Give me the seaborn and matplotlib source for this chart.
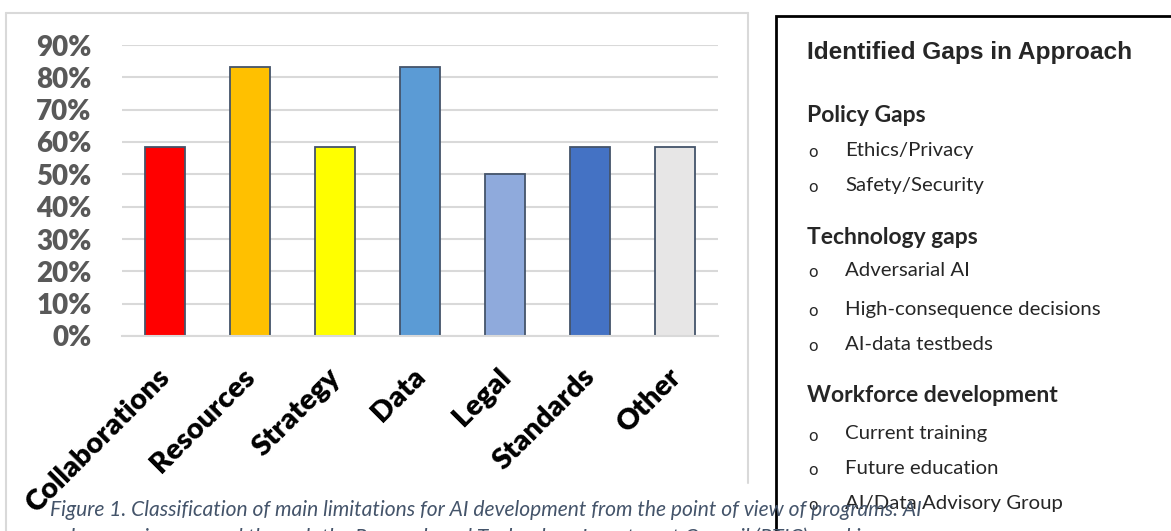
#!/usr/bin/env python3
"""Main limitations for AI development, with the identified-gaps panel."""

from __future__ import annotations

import matplotlib

matplotlib.use("Agg")

import matplotlib.pyplot as plt
import matplotlib.transforms as mtransforms
import pandas as pd
import seaborn as sns
from matplotlib.patches import Rectangle
from matplotlib.lines import Line2D
from matplotlib.ticker import PercentFormatter


CATEGORIES = ["Collaborations", "Resources", "Strategy", "Data", "Legal", "Standards", "Other"]
SHARES = [0.583, 0.833, 0.583, 0.833, 0.50, 0.583, 0.583]
BAR_COLORS = ["#FF0000", "#FFC000", "#FFFF00", "#5B9BD5", "#8FAADC", "#4472C4", "#E7E6E6"]
Y_TICKS = [0.0, 0.1, 0.2, 0.3, 0.4, 0.5, 0.6, 0.7, 0.8, 0.9]

PANEL_TITLE = "Identified Gaps in Approach"
GAP_SECTIONS = [
    ("Policy Gaps", ["Ethics/Privacy", "Safety/Security"]),
    ("Technology gaps", ["Adversarial AI", "High-consequence decisions", "AI-data testbeds"]),
    ("Workforce development", ["Current training", "Future education", "AI/Data Advisory Group"]),
]
CAPTION = [
    "Figure 1. Classification of main limitations for AI development from the point of view of programs. AI",
    "coherence is managed through the Research and Technology Investment Council (RTIC) working group",
]

W, H = 1171, 531

sns.set_theme(style="white")
plt.rcParams["font.family"] = ["Lato", "DejaVu Sans"]


def fx(px: float) -> float:
    return px / W


def fy(py: float) -> float:
    return 1 - py / H


def main() -> None:
    fig = plt.figure(figsize=(W / 100, H / 100), dpi=100)
    fig.patch.set_facecolor("white")

    # light grey frame of the chart area
    grey = "#D9D9D9"
    fig.add_artist(Line2D([fx(6), fx(748)], [fy(13), fy(13)], color=grey, lw=1.5))
    fig.add_artist(Line2D([fx(6), fx(6)], [fy(13), fy(540)], color=grey, lw=1.5))
    fig.add_artist(Line2D([fx(748), fx(748)], [fy(13), fy(483)], color=grey, lw=1.5))

    ax = fig.add_axes([fx(122), fy(336), fx(718) - fx(122), fy(45) - fy(336)])
    df = pd.DataFrame({"category": CATEGORIES, "share": SHARES})
    sns.barplot(
        data=df,
        x="category",
        y="share",
        hue="category",
        palette=BAR_COLORS,
        order=CATEGORIES,
        hue_order=CATEGORIES,
        width=0.47,
        saturation=1,
        edgecolor="#44546A",
        linewidth=1.3,
        legend=False,
        ax=ax,
    )
    ax.set_xlim(-0.5, len(CATEGORIES) - 0.5)
    ax.set_ylim(0, 0.9)
    ax.set_yticks(Y_TICKS)
    ax.yaxis.set_major_formatter(PercentFormatter(1.0, decimals=0))
    ax.grid(axis="y", color=grey, lw=1.5)
    ax.set_axisbelow(True)
    for side in ["top", "right", "left"]:
        ax.spines[side].set_visible(False)
    ax.spines["bottom"].set_color(grey)
    ax.spines["bottom"].set_linewidth(1.5)
    ax.set_xlabel("")
    ax.set_ylabel("")
    ax.tick_params(axis="y", length=0, pad=22, labelsize=20, labelcolor="#595959")
    ax.tick_params(axis="x", length=0, pad=26.5, labelsize=21, labelcolor="black")
    for lab in ax.get_yticklabels():
        lab.set_fontweight("heavy")
    shift = mtransforms.ScaledTranslation(1 / 100, 0, fig.dpi_scale_trans)
    for lab in ax.get_xticklabels():
        lab.set_fontweight("heavy")
        lab.set_rotation(45)
        lab.set_ha("right")
        lab.set_va("center")
        lab.set_rotation_mode("anchor")
        lab.set_transform(lab.get_transform() + shift)

    # boxed list of identified gaps
    fig.add_artist(
        Rectangle((fx(776), fy(560)), fx(1200) - fx(776), fy(16) - fy(560),
                  fill=False, edgecolor="black", lw=2)
    )
    fig.text(fx(807), fy(52), PANEL_TITLE, family="Liberation Sans", weight="bold",
             fontsize=17.6, va="center", ha="left")
    heading_y = [115, 237, 396]
    item_y = [[150, 185], [270, 309, 344], [434, 468, 503]]
    for (heading, items), hy, iys in zip(GAP_SECTIONS, heading_y, item_y):
        fig.text(fx(807), fy(hy), heading, weight="bold", fontsize=16.5, va="center", ha="left")
        for item, iy in zip(items, iys):
            fig.text(fx(808), fy(iy + 2), "o", fontsize=12, va="center", ha="left")
            fig.text(fx(845), fy(iy), item, fontsize=14.7, va="center", ha="left")

    for line, cy in zip(CAPTION, [510, 538]):
        fig.text(fx(50), fy(cy), line, style="italic", color="#44546A",
                 fontsize=15.1, va="center", ha="left")

    fig.savefig("out.png", dpi=100, facecolor="white")
    plt.close(fig)


if __name__ == "__main__":
    main()
